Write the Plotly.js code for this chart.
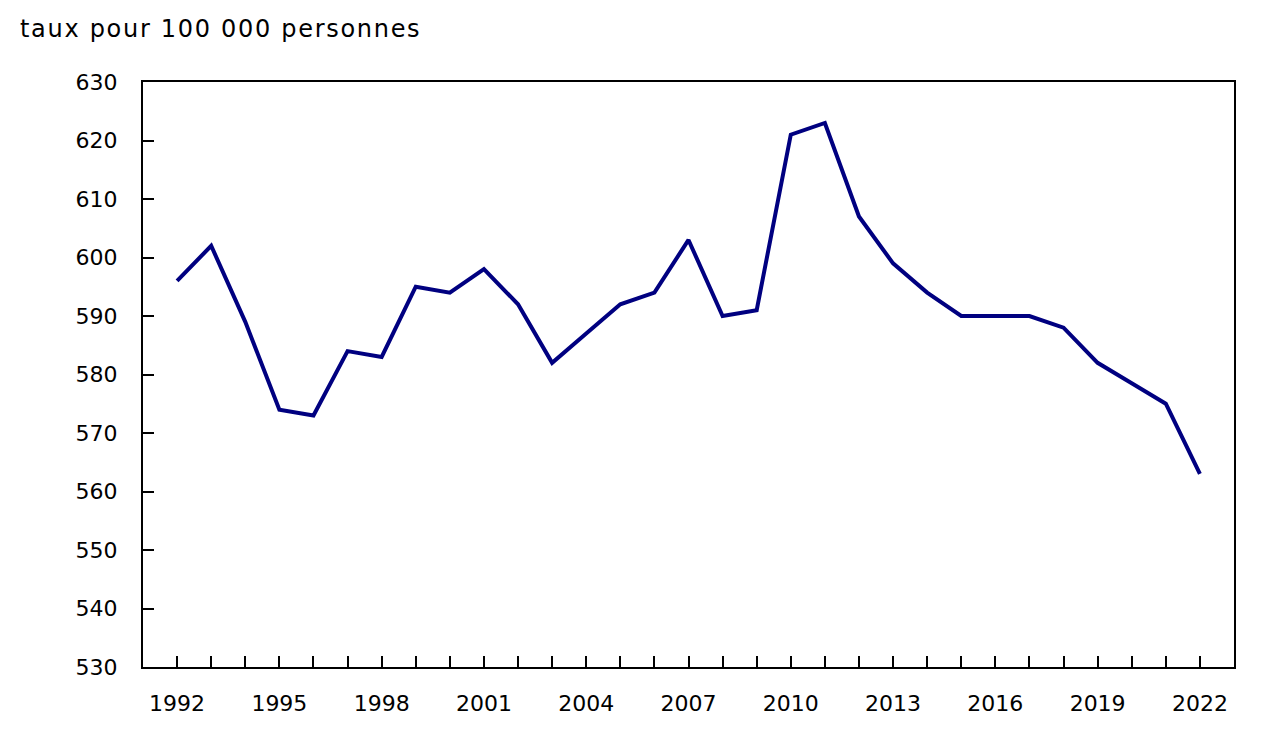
<!DOCTYPE html>
<html>
<head>
<meta charset="utf-8">
<script src="https://cdn.plot.ly/plotly-3.0.1.min.js"></script>
<style>
html,body{margin:0;padding:0;background:#fff;}
#chart{width:1276px;height:729px;}
#chart .gtitle{letter-spacing:1.7px;}
</style>
</head>
<body>
<div id="chart"></div>
<script>
const years = [1992,1993,1994,1995,1996,1997,1998,1999,2000,2001,2002,2003,2004,2005,2006,2007,2008,2009,2010,2011,2012,2013,2014,2015,2016,2017,2018,2019,2020,2021,2022];
const rates = [596,602,589,574,573,584,583,595,594,598,592,582,587,592,594,603,590,591,621,623,607,599,594,590,590,590,588,582,578.5,575,563];
const yTitle = "taux pour 100 000 personnes";

const fam = "DejaVu Sans, Verdana, sans-serif";
const tickFont = {family: fam, size: 22, color: "#000"};

Plotly.newPlot("chart", [{
  x: years, y: rates, type: "scatter", mode: "lines",
  line: {color: "#000080", width: 4},
  hoverinfo: "x+y"
}], {
  width: 1276, height: 729,
  margin: {l: 143, r: 42, t: 82, b: 62},
  paper_bgcolor: "#fff", plot_bgcolor: "#fff",
  font: tickFont,
  showlegend: false,
  title: {text: yTitle, x: 20/1276, xanchor: "left", xref: "container", y: 1 - 29/729, yref: "container", yanchor: "middle", font: {family: fam, size: 24, color: "#000"}},
  xaxis: {
    range: [1991, 2023], tick0: 1992, dtick: 3, tickmode: "linear",
    ticks: "inside", ticklen: 11, tickwidth: 2, tickcolor: "#000",
    minor: {tick0: 1992, dtick: 1, ticks: "inside", ticklen: 11, tickwidth: 2, tickcolor: "#000", showgrid: false},
    showgrid: false, zeroline: false,
    showline: true, linecolor: "#000", linewidth: 2, mirror: true,
    ticklabelstandoff: 16, tickfont: tickFont
  },
  yaxis: {
    range: [530, 630], dtick: 10, tick0: 530, tickmode: "linear",
    ticks: "inside", ticklen: 11, tickwidth: 2, tickcolor: "#000",
    showgrid: false, zeroline: false,
    showline: true, linecolor: "#000", linewidth: 2, mirror: true,
    ticklabelstandoff: 19, tickfont: tickFont
  }
}, {displayModeBar: false, staticPlot: true});
</script>
</body>
</html>
